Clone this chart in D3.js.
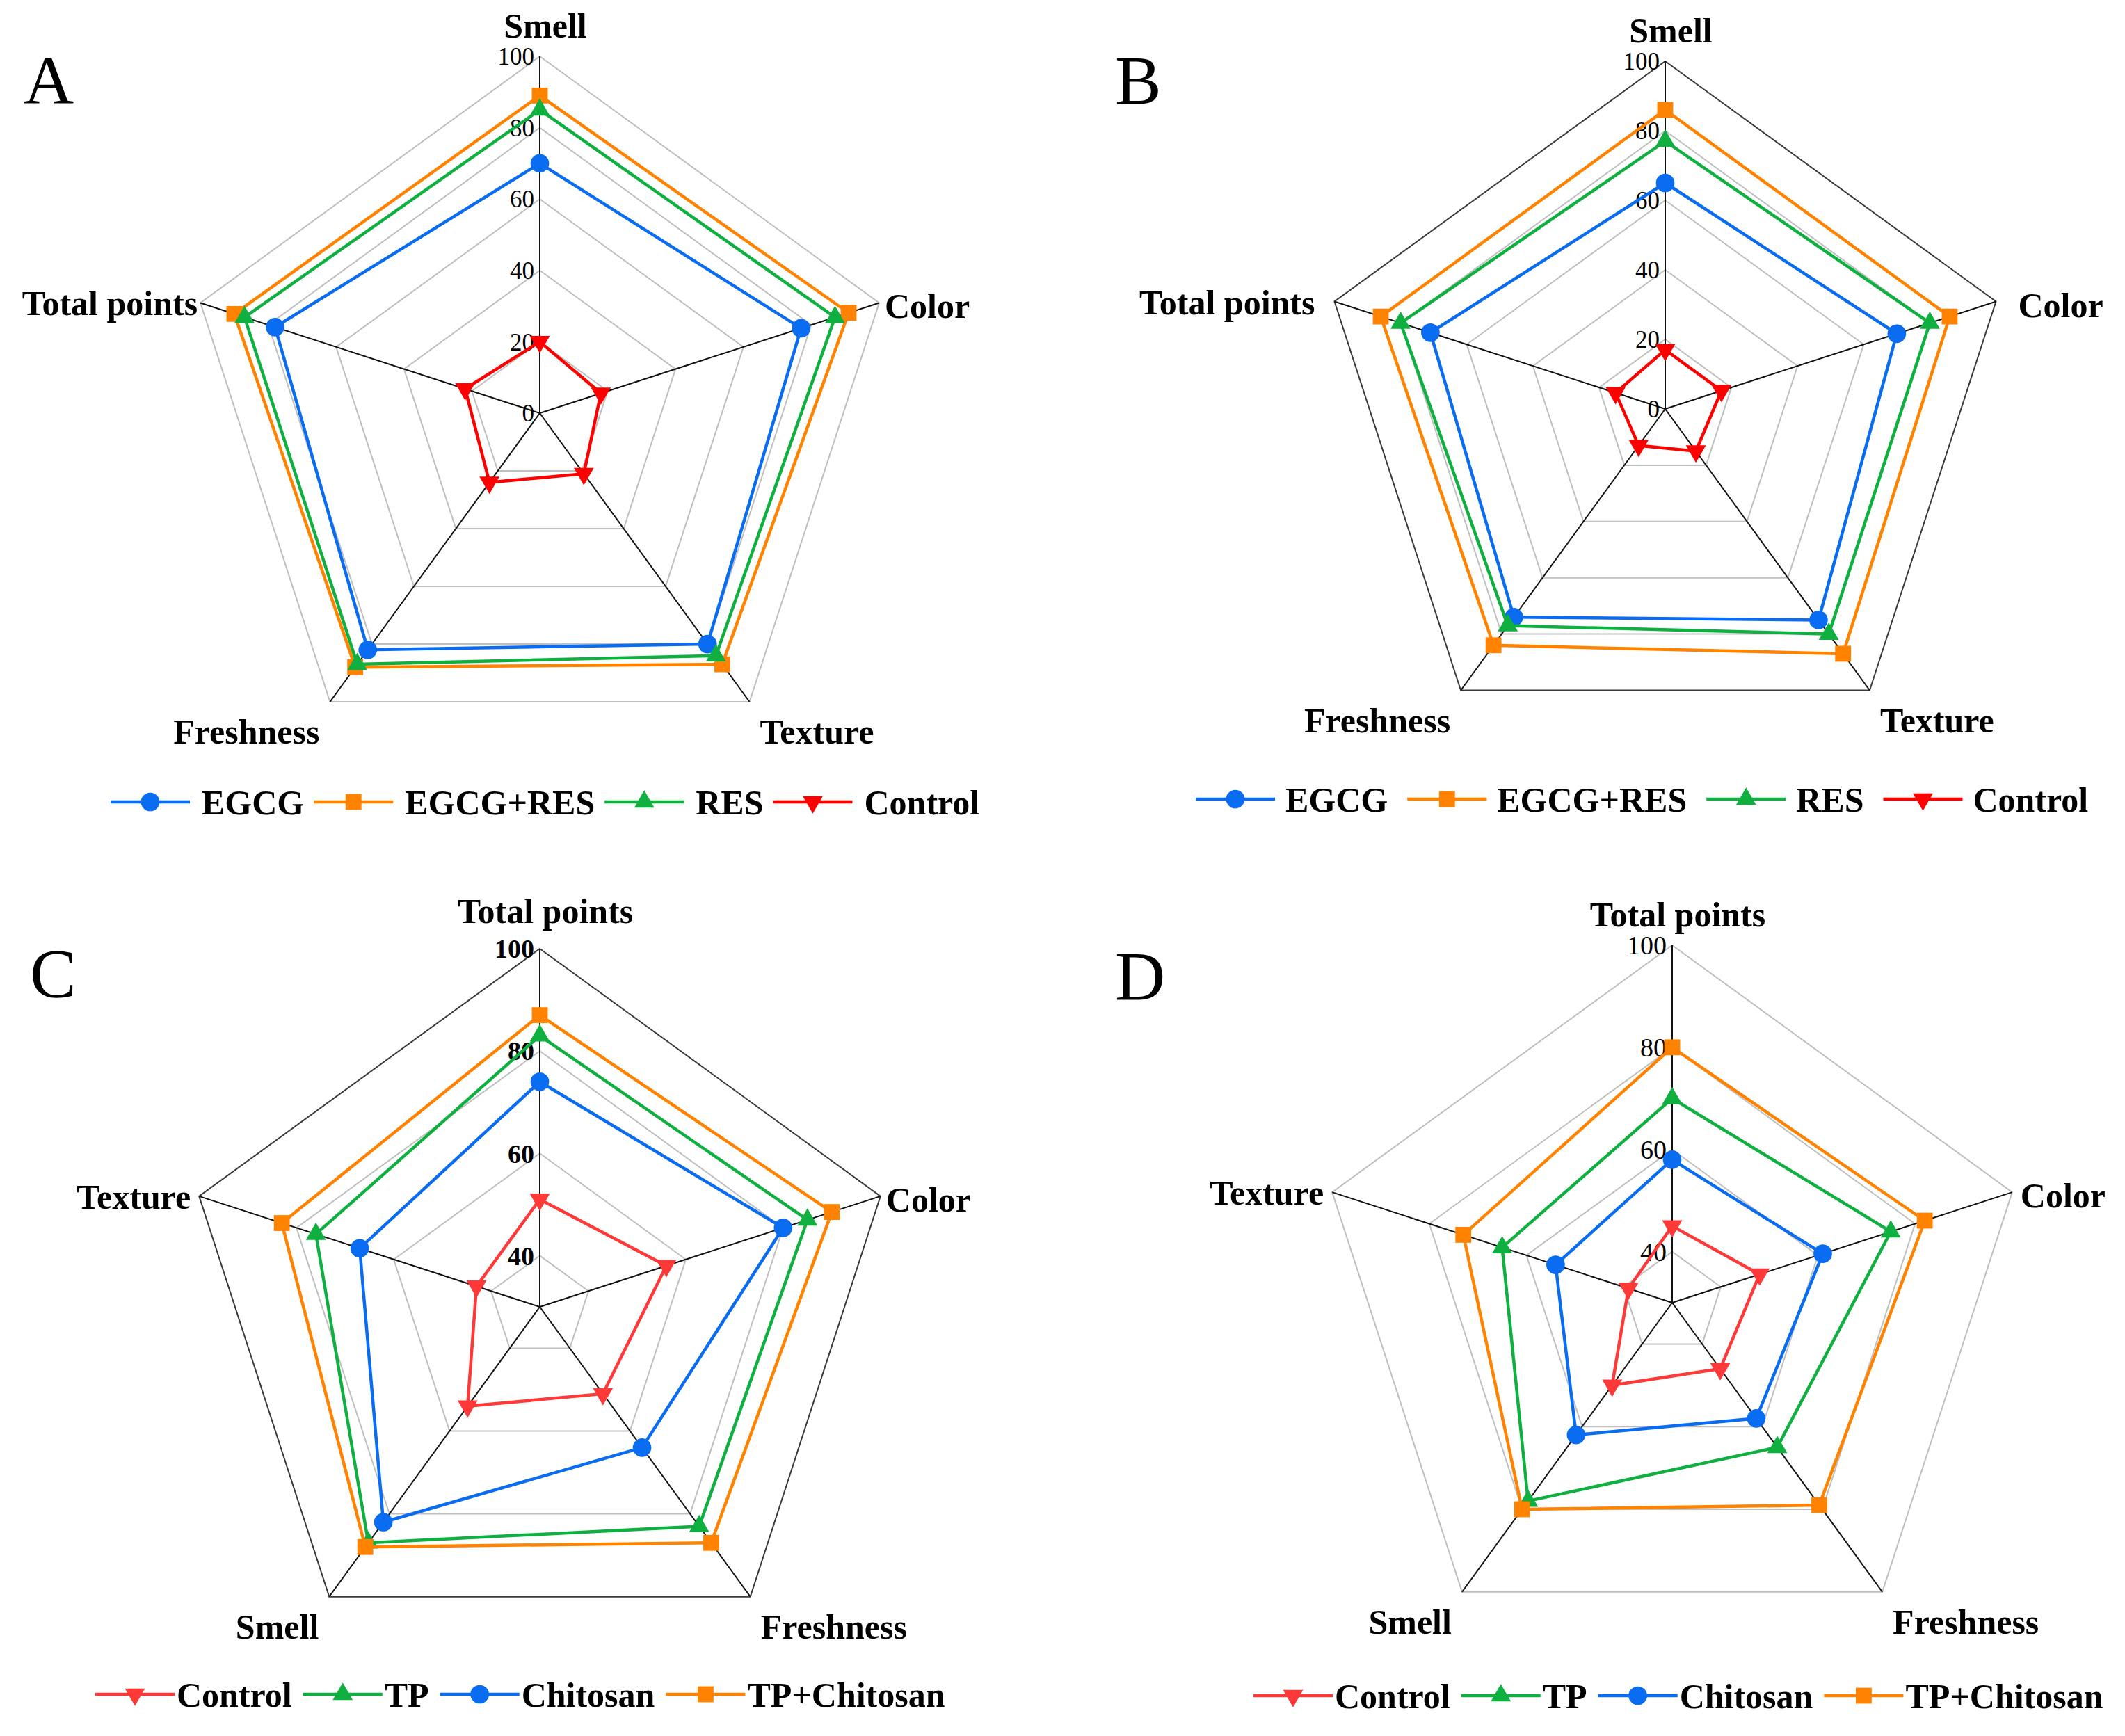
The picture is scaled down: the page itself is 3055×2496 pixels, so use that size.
<!DOCTYPE html>
<html lang="en">
  <head>
    <meta charset="UTF-8" />
    <title>Radar charts A-D</title>
    <script src="https://d3js.org/d3.v7.min.js"></script>
    <style>
      body { margin: 0; background: #fff; }
      text { font-family: "Liberation Serif", "Times New Roman", serif; }
    </style>
  </head>
  <body>
    <svg width="3055" height="2496"></svg>
    <script>
      // ---- data ----
      const catsAB = ["Smell", "Color", "Texture", "Freshness", "Total points"];
      const catsCD = ["Total points", "Color", "Freshness", "Smell", "Texture"];
      const namesAB = ["EGCG", "EGCG+RES", "RES", "Control"];
      const namesCD = ["Control", "TP", "Chitosan", "TP+Chitosan"];
      const ticksAB = [0, 20, 40, 60, 80, 100];
      const ticksCD = [40, 60, 80, 100];

      // panel A
      const egcgA = [70, 77, 80, 82, 78];
      const egcgResA = [89, 91, 87, 88, 90];
      const resA = [85, 87, 84, 87, 87];
      const controlA = [20, 18, 21, 24, 22];
      // panel B
      const egcgB = [65, 70, 75, 74, 71];
      const egcgResB = [86, 86, 87, 84, 86];
      const resB = [77, 80, 80, 77, 80];
      const controlB = [17, 17, 15, 13, 15];
      // panel C
      const controlC = [51, 56, 51, 54, 43];
      const tpC = [83, 85, 83, 87, 76];
      const chitosanC = [74, 80, 64, 82, 67];
      const tpChitosanC = [87, 90, 87, 88, 83];
      // panel D
      const controlD = [45, 48, 46, 50, 39];
      const tpD = [70, 75, 65, 78, 65];
      const chitosanD = [58, 61, 58, 62, 54];
      const tpChitosanD = [80, 82, 79, 80, 73];

      // look of each series
      const styles = {
        "EGCG": { color: "#0a6cf0", shape: "circle" },
        "EGCG+RES": { color: "#ff8200", shape: "square" },
        "RES": { color: "#0fb040", shape: "triangle" },
        "Control": { color: "#ff0000", shape: "down" },
        "TP": { color: "#0fb040", shape: "triangle" },
        "Chitosan": { color: "#0a6cf0", shape: "circle" },
        "TP+Chitosan": { color: "#ff8200", shape: "square" }
      };

      const panels = [
        { letter: "A", lx: 34, ly: 149, cx: 776, cy: 594, R: 513, cats: catsAB, names: namesAB,
          values: [egcgA, egcgResA, resA, controlA], domain: [0, 100], ticks: ticksAB,
          outer: "#bfbfbf", tickBold: false, tickSize: 35, pad: 8, padL: 4, topDy: -27,
          legX: 159, legY: 1153, textGap: 17, itemGap: 14, red: "#ff0000" },
        { letter: "B", lx: 1603, ly: 149, cx: 2394, cy: 588, R: 500, cats: catsAB, names: namesAB,
          values: [egcgB, egcgResB, resB, controlB], domain: [0, 100], ticks: ticksAB,
          outer: "#3a3a3a", tickBold: false, tickSize: 35, pad: 32, padL: 28, topDy: -27,
          legX: 1719, legY: 1149, textGap: 15, itemGap: 28, red: "#ff0000" },
        { letter: "C", lx: 43, ly: 1433, cx: 776, cy: 1879, R: 515, cats: catsCD, names: namesCD,
          values: [controlC, tpC, chitosanC, tpChitosanC], domain: [30, 100], ticks: ticksCD,
          outer: "#3a3a3a", tickBold: true, tickSize: 38, pad: 8, padL: 12, topDy: -37,
          legX: 137, legY: 2436, textGap: 3, itemGap: 16, red: "#ff3838" },
        { letter: "D", lx: 1603, ly: 1437, cx: 2404, cy: 1873, R: 514, cats: catsCD, names: namesCD,
          values: [controlD, tpD, chitosanD, tpChitosanD], domain: [30, 100], ticks: ticksCD,
          outer: "#bfbfbf", tickBold: false, tickSize: 38, pad: 12, padL: 12, topDy: -27,
          legX: 1802, legY: 2438, textGap: 3, itemGap: 16, red: "#ff3838" }
      ];

      const svg = d3.select("svg");
      svg.append("rect").attr("width", 3055).attr("height", 2496).attr("fill", "#fff");

      const symbolOf = {
        circle: d3.symbol().type(d3.symbolCircle).size(560),
        square: d3.symbol().type(d3.symbolSquare).size(520),
        triangle: d3.symbol().type(d3.symbolTriangle).size(360),
        down: d3.symbol().type(d3.symbolTriangle).size(360)
      };

      function drawMarker(sel, shape, color, x, y) {
        sel.append("path")
          .attr("d", symbolOf[shape]())
          .attr("transform", `translate(${x},${y})` + (shape === "down" ? " rotate(180)" : ""))
          .attr("fill", color);
      }

      panels.forEach(p => {
        const n = p.cats.length;
        const ang = d3.scaleLinear().domain([0, n]).range([0, 2 * Math.PI]);
        const r = d3.scaleLinear().domain(p.domain).range([0, p.R]);
        const px = (i, v) => r(v) * Math.sin(ang(i));
        const py = (i, v) => -r(v) * Math.cos(ang(i));
        const colorOf = name => name === "Control" ? p.red : styles[name].color;

        svg.append("text")
          .attr("x", p.lx).attr("y", p.ly)
          .attr("font-size", 100)
          .text(p.letter);

        const g = svg.append("g").attr("transform", `translate(${p.cx},${p.cy})`);

        // grid rings
        const ring = d3.lineRadial()
          .angle((d, i) => ang(i))
          .radius(d => r(d))
          .curve(d3.curveLinearClosed);
        const rings = p.ticks.filter(t => t > p.domain[0]);
        g.selectAll(".ring").data(rings).enter().append("path")
          .attr("d", t => ring(d3.range(n).map(() => t)))
          .attr("fill", "none")
          .attr("stroke", t => t === p.domain[1] ? p.outer : "#bfbfbf")
          .attr("stroke-width", 2);

        // spokes
        g.selectAll(".spoke").data(d3.range(n)).enter().append("line")
          .attr("x1", 0).attr("y1", 0)
          .attr("x2", i => px(i, p.domain[1]))
          .attr("y2", i => py(i, p.domain[1]))
          .attr("stroke", "#111")
          .attr("stroke-width", 2);

        // tick labels
        g.selectAll(".tick").data(p.ticks).enter().append("text")
          .attr("x", -8)
          .attr("y", t => -r(t))
          .attr("dy", "0.35em")
          .attr("text-anchor", "end")
          .attr("font-size", p.tickSize)
          .attr("font-weight", p.tickBold ? "bold" : "normal")
          .text(t => t);

        // category labels
        p.cats.forEach((c, i) => {
          const vx = px(i, p.domain[1]), vy = py(i, p.domain[1]);
          let x = vx, y = vy, anchor = "middle";
          if (i === 0) { x = vx + 8; y = vy + p.topDy; }
          else if (i === 1) { x = vx + p.pad; y = vy + 22; anchor = "start"; }
          else if (i === 2) { x = vx + 15; y = vy + 60; anchor = "start"; }
          else if (i === 3) { x = vx - 15; y = vy + 60; anchor = "end"; }
          else { x = vx - p.padL; y = vy + 18; anchor = "end"; }
          g.append("text")
            .attr("x", x).attr("y", y)
            .attr("text-anchor", anchor)
            .attr("font-size", 50)
            .attr("font-weight", "bold")
            .text(c);
        });

        // series
        const line = d3.lineRadial()
          .angle((d, i) => ang(i))
          .radius(d => r(d))
          .curve(d3.curveLinearClosed);
        p.names.forEach((name, k) => {
          const vals = p.values[k];
          const col = colorOf(name);
          g.append("path")
            .attr("d", line(vals))
            .attr("fill", "none")
            .attr("stroke", col)
            .attr("stroke-width", 4.5)
            .attr("stroke-linejoin", "miter");
          vals.forEach((v, i) => drawMarker(g, styles[name].shape, col, px(i, v), py(i, v)));
        });

        // legend
        const leg = svg.append("g").attr("transform", `translate(${p.legX},${p.legY})`);
        let x = 0;
        p.names.forEach(name => {
          const col = colorOf(name);
          leg.append("line")
            .attr("x1", x).attr("x2", x + 114)
            .attr("y1", 0).attr("y2", 0)
            .attr("stroke", col).attr("stroke-width", 4.5);
          drawMarker(leg, styles[name].shape, col, x + 57, 0);
          x += 114 + p.textGap;
          const t = leg.append("text")
            .attr("x", x).attr("y", 0)
            .attr("dy", "0.35em")
            .attr("font-size", 50)
            .attr("font-weight", "bold")
            .text(name);
          x += t.node().getComputedTextLength() + p.itemGap;
        });
      });
    </script>
  </body>
</html>
